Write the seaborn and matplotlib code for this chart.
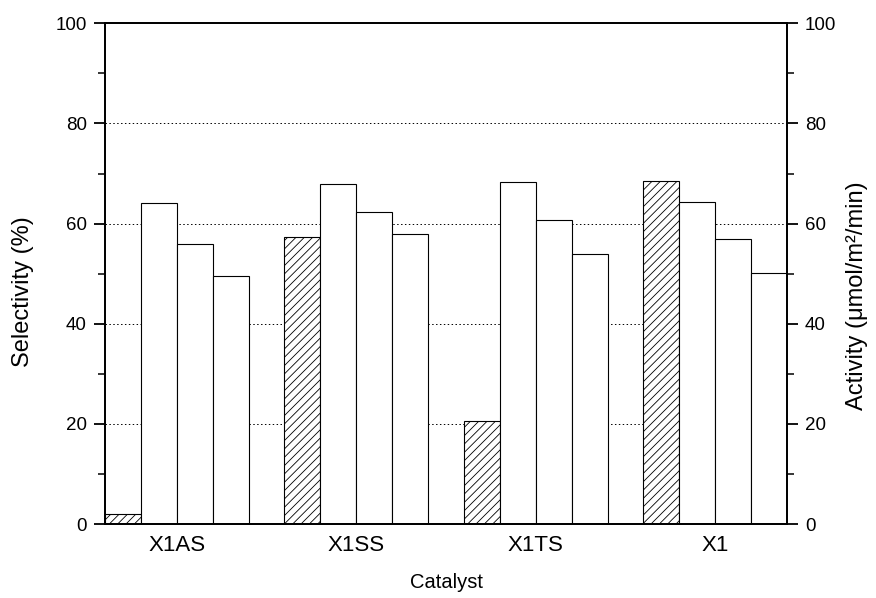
import matplotlib
matplotlib.use("Agg")
import matplotlib.pyplot as plt
import seaborn as sns
import pandas as pd
from matplotlib.ticker import MultipleLocator

catalysts = ["X1AS", "X1SS", "X1TS", "X1"]
activity = [2.0, 57.4, 20.6, 68.5]
selectivity_a = [64.2, 68.0, 68.3, 64.4]
selectivity_b = [56.0, 62.4, 60.8, 57.0]
selectivity_c = [49.6, 57.9, 54.0, 50.1]
series_order = ["Activity", "Selectivity A", "Selectivity B", "Selectivity C"]

sns.set_theme(style="white")
plt.rcParams["font.family"] = ["Liberation Sans", "DejaVu Sans"]
plt.rcParams["hatch.linewidth"] = 0.6
plt.rcParams["hatch.color"] = "black"
plt.rcParams["text.color"] = "black"
plt.rcParams["axes.labelcolor"] = "black"
plt.rcParams["xtick.color"] = "black"
plt.rcParams["ytick.color"] = "black"

df = pd.DataFrame({
    "Catalyst": catalysts * 4,
    "value": activity + selectivity_a + selectivity_b + selectivity_c,
    "series": [s for s in series_order for _ in catalysts],
})

fig = plt.figure(figsize=(8.76, 5.98), dpi=100)
ax = fig.add_axes([0.1199, 0.1237, 0.7785, 0.8373])

for y in [20, 40, 60, 80]:
    ax.axhline(y, color="black", linestyle=(0, (1.5, 2.5)), linewidth=0.7, zorder=0)

pal = {s: "white" for s in series_order}
sns.barplot(data=df, x="Catalyst", y="value", hue="series", hue_order=series_order,
            order=catalysts, palette=pal, edgecolor="black", linewidth=0.8,
            width=0.8, gap=0, legend=False, ax=ax, zorder=2)
# first hue level (Activity) is hatched
for p in ax.containers[0]:
    p.set_hatch("////")

# right-hand axis for Activity (same 0-100 scale)
ax2 = ax.twinx()

for a in (ax, ax2):
    a.set_ylim(0, 100)
    a.set_xlim(-0.4, 3.4)
    a.yaxis.set_major_locator(MultipleLocator(20))
    a.yaxis.set_minor_locator(MultipleLocator(10))
    for s in a.spines.values():
        s.set_linewidth(1.3)
        s.set_color("black")

ax.tick_params(axis="y", which="major", direction="out", length=8, width=1.3, pad=5,
               labelsize=13.5, left=True)
ax.tick_params(axis="y", which="minor", direction="out", length=5, width=1.1, left=True)
ax.tick_params(axis="x", length=0, labelsize=16, pad=8)
ax2.tick_params(axis="y", which="major", direction="out", length=8, width=1.3, pad=5,
                labelsize=13.5, right=True)
ax2.tick_params(axis="y", which="minor", direction="out", length=5, width=1.1, right=True)

ax.set_xlabel("Catalyst", fontsize=14.5, labelpad=12)
ax.set_ylabel("Selectivity (%)", fontsize=17)
ax2.set_ylabel("Activity (\u03bcmol/m\u00b2/min)", fontsize=17)
ax.yaxis.set_label_coords(-0.1036, 0.465)
ax2.yaxis.set_label_coords(1.086, 0.457)

fig.savefig("out.png", dpi=100)
